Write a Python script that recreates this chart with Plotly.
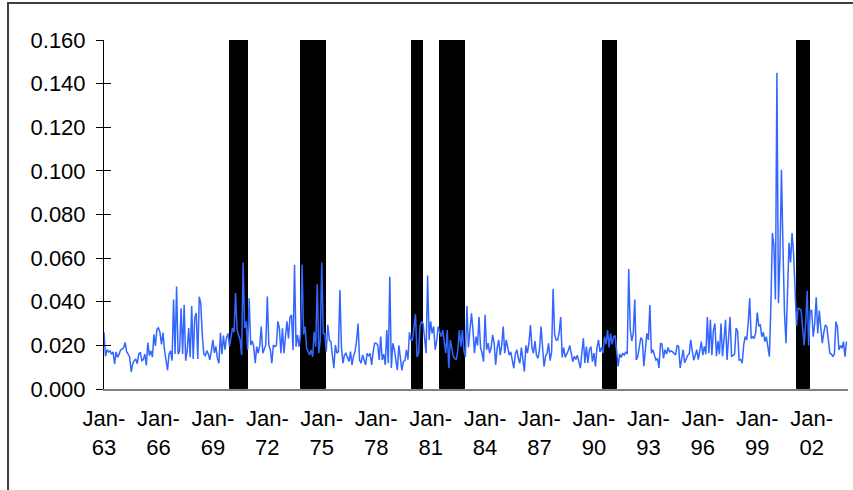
import plotly.graph_objects as go
import pandas as pd

# ---- data -------------------------------------------------------------
first_month = "1963-01"
last_month = "2003-12"

vol_1963 = [0.026, 0.015, 0.018, 0.017, 0.0175, 0.016, 0.017, 0.0115, 0.017, 0.0145, 0.016, 0.018]
vol_1964 = [0.0183, 0.019, 0.0213, 0.017, 0.016, 0.0146, 0.0078, 0.0116, 0.013, 0.0138, 0.0116, 0.016]
vol_1965 = [0.0168, 0.013, 0.0135, 0.016, 0.0108, 0.0213, 0.0153, 0.0175, 0.0146, 0.025, 0.0198, 0.0273]
vol_1966 = [0.028, 0.026, 0.0205, 0.0258, 0.018, 0.0138, 0.0086, 0.016, 0.0175, 0.013, 0.041, 0.016]
vol_1967 = [0.047, 0.016, 0.0175, 0.037, 0.016, 0.0386, 0.013, 0.0175, 0.028, 0.0146, 0.038, 0.0138]
vol_1968 = [0.0326, 0.0348, 0.0138, 0.0423, 0.039, 0.025, 0.016, 0.0153, 0.0175, 0.016, 0.0133, 0.0175]
vol_1969 = [0.0225, 0.0165, 0.0195, 0.014, 0.0118, 0.0258, 0.016, 0.0245, 0.018, 0.0235, 0.0255, 0.0195]
vol_1970 = [0.024, 0.028, 0.026, 0.044, 0.027, 0.025, 0.0225, 0.0156, 0.058, 0.028, 0.031, 0.018]
vol_1971 = [0.0416, 0.0202, 0.022, 0.0194, 0.0118, 0.0194, 0.0164, 0.020, 0.0286, 0.0164, 0.0187, 0.0202]
vol_1972 = [0.0424, 0.0202, 0.0179, 0.0118, 0.0202, 0.0194, 0.020, 0.031, 0.0278, 0.0164, 0.0278, 0.0164]
vol_1973 = [0.024, 0.031, 0.0232, 0.033, 0.034, 0.0179, 0.057, 0.0194, 0.0248, 0.0194, 0.0248, 0.057]
vol_1974 = [0.025, 0.0286, 0.0187, 0.0171, 0.0156, 0.0179, 0.0148, 0.0263, 0.0194, 0.048, 0.0164, 0.022]
vol_1975 = [0.058, 0.0255, 0.0255, 0.0171, 0.0294, 0.0225, 0.0217, 0.0156, 0.0095, 0.0202, 0.0164, 0.0171]
vol_1976 = [0.0454, 0.0194, 0.0118, 0.0156, 0.0164, 0.0145, 0.0126, 0.0171, 0.011, 0.0150, 0.0171, 0.022]
vol_1977 = [0.030, 0.0133, 0.0118, 0.0156, 0.0135, 0.011, 0.0164, 0.0150, 0.0164, 0.011, 0.0171, 0.021]
vol_1978 = [0.021, 0.0202, 0.0133, 0.024, 0.0133, 0.016, 0.011, 0.027, 0.0118, 0.0515, 0.0096, 0.021]
vol_1979 = [0.018, 0.0133, 0.0087, 0.020, 0.0135, 0.0085, 0.0126, 0.0130, 0.018, 0.0135, 0.026, 0.0225]
vol_1980 = [0.0225, 0.028, 0.0343, 0.0147, 0.0164, 0.029, 0.031, 0.030, 0.021, 0.0164, 0.052, 0.0225]
vol_1981 = [0.031, 0.0255, 0.0286, 0.018, 0.022, 0.0286, 0.026, 0.024, 0.027, 0.021, 0.0164, 0.027]
vol_1982 = [0.0095, 0.0225, 0.018, 0.015, 0.014, 0.0133, 0.018, 0.027, 0.0194, 0.027, 0.0175, 0.0148]
vol_1983 = [0.038, 0.019, 0.027, 0.0347, 0.027, 0.0164, 0.024, 0.020, 0.033, 0.019, 0.0165, 0.0125]
vol_1984 = [0.034, 0.018, 0.021, 0.0164, 0.019, 0.0248, 0.021, 0.011, 0.0187, 0.0225, 0.0155, 0.020]
vol_1985 = [0.0286, 0.0164, 0.0225, 0.0187, 0.0155, 0.017, 0.0125, 0.0095, 0.016, 0.018, 0.014, 0.0118]
vol_1986 = [0.019, 0.0125, 0.008, 0.020, 0.0164, 0.021, 0.0293, 0.019, 0.0164, 0.022, 0.0155, 0.014]
vol_1987 = [0.018, 0.0286, 0.0164, 0.0102, 0.015, 0.0164, 0.021, 0.013, 0.017, 0.046, 0.0248, 0.0225]
vol_1988 = [0.0225, 0.026, 0.033, 0.0145, 0.019, 0.0145, 0.016, 0.0175, 0.020, 0.0155, 0.0125, 0.015]
vol_1989 = [0.0135, 0.0155, 0.0125, 0.0096, 0.0165, 0.0233, 0.012, 0.0195, 0.012, 0.018, 0.0195, 0.0125]
vol_1990 = [0.0165, 0.0103, 0.019, 0.0225, 0.017, 0.019, 0.0165, 0.024, 0.0205, 0.027, 0.019, 0.0255]
vol_1991 = [0.0205, 0.024, 0.0245, 0.0156, 0.0103, 0.016, 0.0145, 0.0164, 0.0155, 0.017, 0.016, 0.055]
vol_1992 = [0.0275, 0.022, 0.0255, 0.041, 0.0133, 0.015, 0.019, 0.0235, 0.0225, 0.0105, 0.018, 0.0255]
vol_1993 = [0.0225, 0.0385, 0.0164, 0.018, 0.0155, 0.0133, 0.014, 0.0096, 0.021, 0.0205, 0.014, 0.018]
vol_1994 = [0.016, 0.019, 0.017, 0.0175, 0.017, 0.016, 0.0156, 0.020, 0.0194, 0.0096, 0.0148, 0.018]
vol_1995 = [0.012, 0.0135, 0.0155, 0.016, 0.0225, 0.0175, 0.0132, 0.0155, 0.018, 0.0135, 0.0175, 0.0217]
vol_1996 = [0.0155, 0.0195, 0.016, 0.033, 0.0164, 0.0317, 0.0155, 0.027, 0.030, 0.015, 0.022, 0.016]
vol_1997 = [0.030, 0.015, 0.0225, 0.0317, 0.0133, 0.022, 0.033, 0.0148, 0.0156, 0.016, 0.0279, 0.0265]
vol_1998 = [0.0133, 0.0135, 0.0118, 0.020, 0.024, 0.0225, 0.030, 0.0416, 0.0232, 0.024, 0.0232, 0.026]
vol_1999 = [0.035, 0.029, 0.0294, 0.024, 0.026, 0.0217, 0.024, 0.0187, 0.0148, 0.038, 0.0715, 0.066]
vol_2000 = [0.041, 0.145, 0.0393, 0.060, 0.1005, 0.065, 0.035, 0.021, 0.045, 0.067, 0.058, 0.0715]
vol_2001 = [0.062, 0.045, 0.029, 0.037, 0.0368, 0.036, 0.028, 0.020, 0.030, 0.045, 0.020, 0.036]
vol_2002 = [0.036, 0.024, 0.030, 0.042, 0.0255, 0.036, 0.028, 0.021, 0.026, 0.0294, 0.0286, 0.022]
vol_2003 = [0.0164, 0.016, 0.0148, 0.016, 0.0309, 0.0286, 0.0179, 0.020, 0.0187, 0.0217, 0.0148, 0.0217]

# NBER recession periods (first month, last month) shown as black bars
recessions = [("1969-12", "1970-11"), ("1973-11", "1975-03"), ("1980-01", "1980-07"),
              ("1981-07", "1982-11"), ("1990-07", "1991-03"), ("2001-03", "2001-11")]
recession_height = 0.16

tick_months = ["1963-01", "1966-01", "1969-01", "1972-01", "1975-01", "1978-01", "1981-01",
               "1984-01", "1987-01", "1990-01", "1993-01", "1996-01", "1999-01", "2002-01"]
tick_labels = ["Jan-<br>63", "Jan-<br>66", "Jan-<br>69", "Jan-<br>72", "Jan-<br>75", "Jan-<br>78",
               "Jan-<br>81", "Jan-<br>84", "Jan-<br>87", "Jan-<br>90", "Jan-<br>93", "Jan-<br>96",
               "Jan-<br>99", "Jan-<br>02"]
y_ticks = [0.0, 0.02, 0.04, 0.06, 0.08, 0.10, 0.12, 0.14, 0.16]

# ---- build -------------------------------------------------------------
volatility = (vol_1963 + vol_1964 + vol_1965 + vol_1966 + vol_1967 + vol_1968 + vol_1969 +
              vol_1970 + vol_1971 + vol_1972 + vol_1973 + vol_1974 + vol_1975 + vol_1976 +
              vol_1977 + vol_1978 + vol_1979 + vol_1980 + vol_1981 + vol_1982 + vol_1983 +
              vol_1984 + vol_1985 + vol_1986 + vol_1987 + vol_1988 + vol_1989 + vol_1990 +
              vol_1991 + vol_1992 + vol_1993 + vol_1994 + vol_1995 + vol_1996 + vol_1997 +
              vol_1998 + vol_1999 + vol_2000 + vol_2001 + vol_2002 + vol_2003)

months = pd.period_range(first_month, last_month, freq="M")
month_pos = list(range(len(months)))
pos_of = {str(m): i for i, m in enumerate(months)}

rec_flag = []
for m in months:
    s = str(m)
    inside = any(a <= s <= b for a, b in recessions)
    rec_flag.append(recession_height if inside else None)

tick_pos = [pos_of[t] for t in tick_months]

FONT = "Liberation Sans, Arial, sans-serif"

fig = go.Figure()
fig.add_trace(go.Bar(
    x=month_pos, y=rec_flag, width=1.0, offset=0,
    marker=dict(color="black", line=dict(color="black", width=1)),
    showlegend=False, hoverinfo="skip",
))
fig.add_trace(go.Scatter(
    x=month_pos, y=volatility, mode="lines",
    line=dict(color="#3366FF", width=1.5),
    showlegend=False,
))
# invisible helper trace so the inner tick marks axis is drawn
fig.add_trace(go.Scatter(x=[0], y=[0], yaxis="y2", mode="markers",
                         marker=dict(opacity=0), showlegend=False, hoverinfo="skip"))

fig.update_layout(
    width=853, height=490,
    margin=dict(l=104, r=5, t=40, b=101),
    paper_bgcolor="white", plot_bgcolor="white",
    bargap=0,
    font=dict(family=FONT, size=22, color="black"),
    xaxis=dict(
        range=[0, 492], tickmode="array", tickvals=tick_pos, ticktext=tick_labels,
        showgrid=False, zeroline=False, showline=True, linecolor="#808080", linewidth=1.5,
        ticks="", ticklabelstandoff=9, tickfont=dict(size=22, family=FONT),
    ),
    yaxis=dict(
        range=[0, 0.16], tickmode="array", tickvals=y_ticks, tickformat=".3f",
        showgrid=False, zeroline=False, showline=True, linecolor="black", linewidth=1,
        ticks="outside", ticklen=7, tickcolor="black", tickwidth=1,
        ticklabelstandoff=6, tickfont=dict(size=22, family=FONT),
    ),
    yaxis2=dict(
        overlaying="y", side="left", range=[0, 0.16], tickmode="array", tickvals=y_ticks,
        showticklabels=False, showgrid=False, zeroline=False, showline=False,
        ticks="inside", ticklen=7, tickcolor="black", tickwidth=1,
    ),
    shapes=[dict(type="rect", xref="paper", yref="paper",
                 x0=-0.129, x1=1.02, y0=-0.35, y1=1.106,
                 line=dict(color="#404040", width=2), fillcolor="rgba(0,0,0,0)", layer="below")],
)

fig.write_html("out.html", config={"displayModeBar": False},
               post_script="document.body.style.margin='0';document.body.style.padding='0';")
